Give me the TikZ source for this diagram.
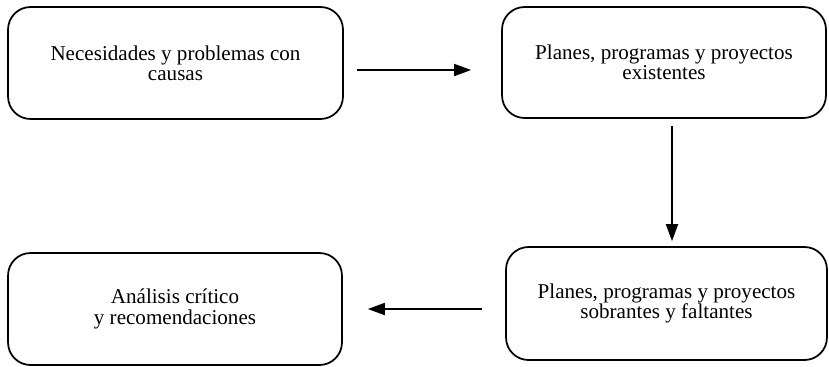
\documentclass[tikz,border=0pt]{standalone}
\usepackage{fontspec}
\setmainfont{Liberation Serif}
\usetikzlibrary{arrows.meta,positioning}

\begin{document}
\begin{tikzpicture}[x=0.02cm,y=-0.02cm, font=\fontsize{12}{11.6}\selectfont,
    stage/.style={draw, line width=1pt, rounded corners=0.45cm, align=center,
      inner sep=2pt},
    flow/.style={line width=1pt, -{Triangle[length=0.34cm,width=0.24cm]}}]
\useasboundingbox (0,0) rectangle (829,366);
\node[stage, minimum width=6.7cm, minimum height=2.24cm] (needs) at (175.5,63)
  {Necesidades y problemas con\\causas};
\node[stage, minimum width=6.48cm, minimum height=2.22cm] (plans) at (664,62.5)
  {Planes, programas y proyectos\\existentes};
\node[stage, minimum width=6.42cm, minimum height=2.26cm] (gaps) at (666.5,303.5)
  {Planes, programas y proyectos\\sobrantes y faltantes};
\node[stage, minimum width=6.68cm, minimum height=2.24cm] (review) at (175,309)
  {Análisis crítico\\y recomendaciones};
\draw[flow, shorten <=0.26cm, shorten >=0.6cm] ([yshift=-0.14cm]needs.east)
  -- ([yshift=-0.14cm]needs.east -| plans.west);
\draw[flow, shorten <=0.14cm, shorten >=0.1cm] ([xshift=0.16cm]plans.south)
  -- ([xshift=0.16cm]plans.south |- gaps.north);
\draw[flow, shorten <=0.46cm, shorten >=0.5cm] (gaps.west |- review.east) -- (review.east);
\end{tikzpicture}
\end{document}
